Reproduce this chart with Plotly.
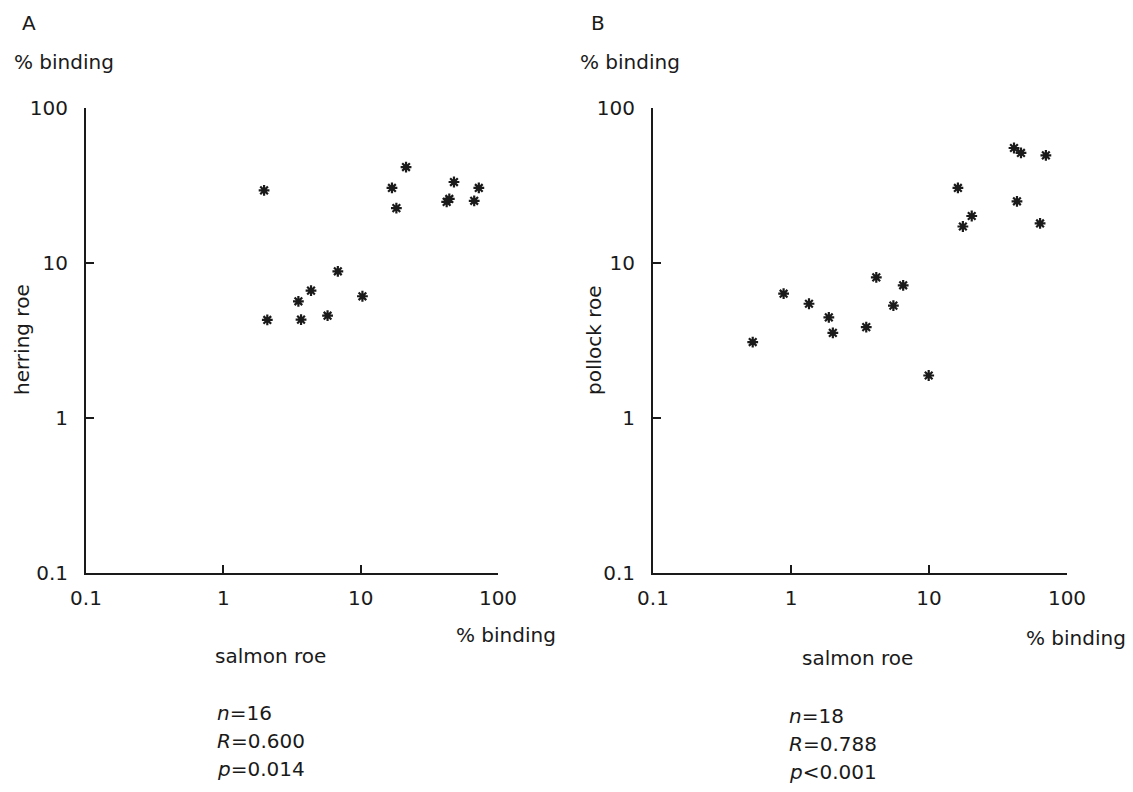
import plotly.graph_objects as go

# Panel A: salmon roe vs herring roe (% binding)
a_salmon = [1.98, 2.09, 3.52, 3.68, 4.35, 5.74, 6.82, 10.3, 16.9, 18.2, 21.4, 42.3, 44.2, 47.8, 67.1, 72.5]
a_herring = [29.4, 4.29, 5.66, 4.31, 6.63, 4.57, 8.84, 6.10, 30.5, 22.6, 41.6, 24.8, 25.9, 33.3, 25.2, 30.5]

# Panel B: salmon roe vs pollock roe (% binding)
b_salmon = [0.528, 0.884, 1.35, 1.88, 2.01, 3.51, 4.15, 5.52, 6.50, 9.95, 16.2, 17.6, 20.4, 41.3, 46.4, 43.4, 70.3, 63.8]
b_pollock = [3.09, 6.34, 5.46, 4.46, 3.54, 3.86, 8.08, 5.31, 7.18, 1.88, 30.5, 17.2, 20.1, 55.2, 51.3, 25.0, 49.5, 18.0]

tick_vals = [0.1, 1, 10, 100]
tick_text = ["0.1", "1", "10", "100"]

W, H = 1133, 792
FONT = "DejaVu Sans"
FS = 20
INK = "#1a1a1a"

fig = go.Figure()
marker = dict(symbol="asterisk-open", size=9, color=INK, line=dict(color=INK, width=2.2))
fig.add_trace(go.Scatter(x=a_salmon, y=a_herring, mode="markers", marker=marker,
                         xaxis="x", yaxis="y", showlegend=False))
fig.add_trace(go.Scatter(x=b_salmon, y=b_pollock, mode="markers", marker=marker,
                         xaxis="x2", yaxis="y2", showlegend=False))

def px(x):
    return x / W

def py(y):
    return 1 - y / H

axis_common = dict(type="log", range=[-1, 2], tickvals=tick_vals, ticktext=tick_text,
                   showline=True, linewidth=2, linecolor=INK, ticks="inside", ticklen=8,
                   tickwidth=2, tickcolor=INK, showgrid=False, zeroline=False,
                   automargin=False,
                   tickfont=dict(family=FONT, size=FS, color=INK), mirror=False)

yb, yt = py(573), py(108)
fig.update_layout(
    width=W, height=H, margin=dict(l=0, r=0, t=0, b=0, pad=0),
    paper_bgcolor="white", plot_bgcolor="white",
    xaxis=dict(domain=[px(86), px(498)], anchor="y", ticklabelstandoff=6, **axis_common),
    yaxis=dict(domain=[yb, yt], anchor="x", ticklabelstandoff=12, **axis_common),
    xaxis2=dict(domain=[px(653), px(1067)], anchor="y2", ticklabelstandoff=6, **axis_common),
    yaxis2=dict(domain=[yb, yt], anchor="x2", ticklabelstandoff=12, **axis_common),
)

def note(text, x, y, xanchor="left", yanchor="middle", angle=0):
    fig.add_annotation(text=text, x=px(x), y=py(y), xref="paper", yref="paper",
                       xanchor=xanchor, yanchor=yanchor, showarrow=False, textangle=angle,
                       font=dict(family=FONT, size=FS, color=INK))

# Panel A texts
note("A", 20, 23)
note("% binding", 12, 62)
note("herring roe", 22, 340, xanchor="center", angle=-90)
note("% binding", 558, 635, xanchor="right")
note("salmon roe", 213, 656)
note("<i>n</i>=16", 215, 713)
note("<i>R</i>=0.600", 215, 741)
note("<i>p</i>=0.014", 215, 769)

# Panel B texts
note("B", 589, 23)
note("% binding", 578, 62)
note("pollock roe", 594, 340, xanchor="center", angle=-90)
note("% binding", 1128, 638, xanchor="right")
note("salmon roe", 800, 658)
note("<i>n</i>=18", 787, 716)
note("<i>R</i>=0.788", 787, 744)
note("<i>p</i>&lt;0.001", 787, 772)

fig.write_html("out.html", config={"displayModeBar": False},
               post_script="document.body.style.margin='0';document.body.style.overflow='hidden';")
